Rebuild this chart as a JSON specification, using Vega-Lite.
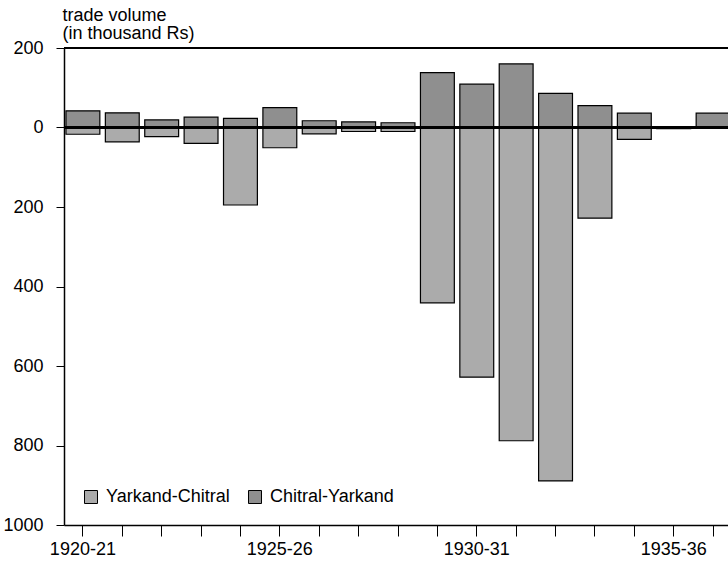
{
  "$schema": "https://vega.github.io/schema/vega-lite/v6.json",
  "autosize": {"type": "none"},
  "padding": {"left": 64, "top": 48, "right": 0, "bottom": 41},
  "width": 664,
  "height": 477,
  "background": "white",
  "config": {
    "view": {"stroke": null},
    "font": "Liberation Sans",
    "axis": {"labelFont": "Liberation Sans", "titleFont": "Liberation Sans", "labelColor": "black", "titleColor": "black", "domainColor": "black", "tickColor": "black", "grid": false}
  },
  "data": {
    "values": [
      {"year": "1920-21", "route": "Chitral-Yarkand", "value": 42},
      {"year": "1920-21", "route": "Yarkand-Chitral", "value": -17},
      {"year": "1921-22", "route": "Chitral-Yarkand", "value": 37},
      {"year": "1921-22", "route": "Yarkand-Chitral", "value": -36},
      {"year": "1922-23", "route": "Chitral-Yarkand", "value": 19},
      {"year": "1922-23", "route": "Yarkand-Chitral", "value": -23},
      {"year": "1923-24", "route": "Chitral-Yarkand", "value": 26},
      {"year": "1923-24", "route": "Yarkand-Chitral", "value": -40},
      {"year": "1924-25", "route": "Chitral-Yarkand", "value": 23},
      {"year": "1924-25", "route": "Yarkand-Chitral", "value": -195},
      {"year": "1925-26", "route": "Chitral-Yarkand", "value": 50},
      {"year": "1925-26", "route": "Yarkand-Chitral", "value": -51},
      {"year": "1926-27", "route": "Chitral-Yarkand", "value": 17},
      {"year": "1926-27", "route": "Yarkand-Chitral", "value": -16},
      {"year": "1927-28", "route": "Chitral-Yarkand", "value": 14},
      {"year": "1927-28", "route": "Yarkand-Chitral", "value": -10},
      {"year": "1928-29", "route": "Chitral-Yarkand", "value": 12},
      {"year": "1928-29", "route": "Yarkand-Chitral", "value": -10},
      {"year": "1929-30", "route": "Chitral-Yarkand", "value": 138},
      {"year": "1929-30", "route": "Yarkand-Chitral", "value": -441},
      {"year": "1930-31", "route": "Chitral-Yarkand", "value": 109},
      {"year": "1930-31", "route": "Yarkand-Chitral", "value": -628},
      {"year": "1931-32", "route": "Chitral-Yarkand", "value": 160},
      {"year": "1931-32", "route": "Yarkand-Chitral", "value": -788},
      {"year": "1932-33", "route": "Chitral-Yarkand", "value": 86},
      {"year": "1932-33", "route": "Yarkand-Chitral", "value": -889},
      {"year": "1933-34", "route": "Chitral-Yarkand", "value": 55},
      {"year": "1933-34", "route": "Yarkand-Chitral", "value": -228},
      {"year": "1934-35", "route": "Chitral-Yarkand", "value": 36},
      {"year": "1934-35", "route": "Yarkand-Chitral", "value": -30},
      {"year": "1935-36", "route": "Chitral-Yarkand", "value": 0},
      {"year": "1935-36", "route": "Yarkand-Chitral", "value": -3},
      {"year": "1936-37", "route": "Chitral-Yarkand", "value": 36},
      {"year": "1936-37", "route": "Yarkand-Chitral", "value": 0}
    ]
  },
  "layer": [
    {
      "mark": {"type": "bar", "stroke": "black", "strokeWidth": 1.2, "clip": true},
      "encoding": {
        "x": {
          "field": "year", "type": "ordinal", "sort": null,
          "scale": {"range": [0, 668], "paddingInner": 0.14, "paddingOuter": 0.05},
          "axis": {
            "title": null, "labelAngle": 0, "labelFontSize": 18, "labelPadding": 4,
            "tickSize": 11, "tickWidth": 1, "domain": true, "domainWidth": 1.5,
            "labelExpr": "indexof(['1920-21','1925-26','1930-31','1935-36'], datum.value) >= 0 ? datum.label : ''"
          }
        },
        "y": {
          "field": "value", "type": "quantitative", "stack": null,
          "scale": {"domain": [-1000, 200], "nice": false},
          "axis": {
            "values": [-1000, -800, -600, -400, -200, 0, 200],
            "labelExpr": "format(abs(datum.value), 'd')",
            "labelFontSize": 18, "labelPadding": 13, "tickSize": 8, "domain": true, "domainWidth": 1.5,
            "title": ["trade volume", "(in thousand Rs)"],
            "titleAngle": 0, "titleAlign": "left", "titleBaseline": "top",
            "titleX": -2, "titleY": -42, "titleFontSize": 18, "titleFontWeight": "normal", "titleLineHeight": 18
          }
        },
        "color": {
          "field": "route", "type": "nominal",
          "scale": {"domain": ["Yarkand-Chitral", "Chitral-Yarkand"], "range": ["#ababab", "#8f8f8f"]},
          "legend": {
            "title": null, "orient": "none", "legendX": 18, "legendY": 440, "direction": "horizontal",
            "symbolType": "square", "symbolSize": 169, "symbolStrokeColor": "black", "symbolStrokeWidth": 1,
            "labelFontSize": 18, "labelColor": "black", "labelOffset": 6, "columnPadding": 16
          }
        }
      }
    },
    {
      "mark": {"type": "rule", "color": "black", "strokeWidth": 2},
      "encoding": {"y": {"datum": 0}}
    },
    {
      "mark": {"type": "rule", "color": "black", "strokeWidth": 1.5},
      "encoding": {"y": {"datum": 200}}
    }
  ]
}
